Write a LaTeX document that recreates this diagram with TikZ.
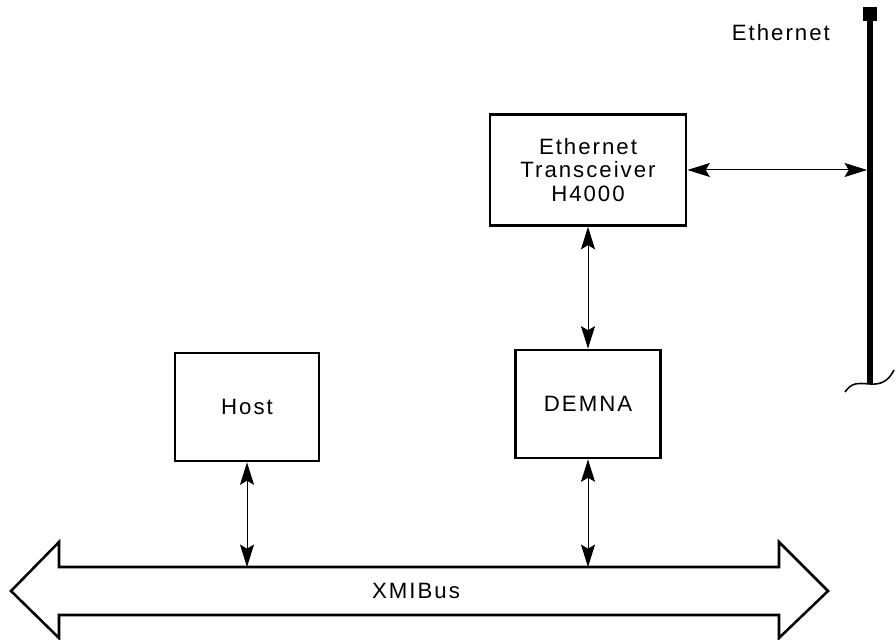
\documentclass[tikz,border=0pt]{standalone}
\usepackage{fontspec}
\setmainfont{Liberation Sans}[LetterSpace=9]
\usepackage{tikz}
\usetikzlibrary{arrows.meta,calc}

\begin{document}
\begin{tikzpicture}[
  box/.style={draw,line width=2pt,minimum width=3.6cm,minimum height=2.7cm,align=center,font=\fontsize{15.8}{17}\selectfont},
  link/.style={{Stealth[length=16pt,width=10pt,inset=3pt]}-{Stealth[length=16pt,width=10pt,inset=3pt]},line width=0.7pt},
  lbl/.style={font=\fontsize{15.8}{17}\selectfont}]
\useasboundingbox (0,0) rectangle (22.4,16);
% boxes
\node[box,minimum width=4.9cm,minimum height=2.775cm] (trans) at (14.7,11.75) {Ethernet\\Transceiver\\H4000};
\node[box,minimum width=3.625cm] (demna) at (14.7,5.9) {DEMNA};
\node[box] (host) at (6.175,5.825) {Host};
% ethernet cable
\coordinate (ethtop) at (21.75,15.475);
\coordinate (ethbot) at (21.75,6.4);
\draw[line width=4.25pt] (ethtop) -- (ethbot);
\fill (21.575,15.475) rectangle (21.925,15.825);
\draw[line width=1.1pt] (21.125,6.2) .. controls (21.3,6.45) and (21.45,6.42) .. (ethbot)
  .. controls (22.0,6.38) and (22.2,6.45) .. (22.35,6.75);
\node[lbl] (ethlbl) at (19.52,15.18) {Ethernet};
\coordinate (ethjoin) at (21.675,11.75);
% XMI bus
\draw[line width=1.8pt,line join=miter] (0.275,1.225) -- (1.475,2.45) -- (1.475,1.825) -- (19.475,1.825)
  -- (19.475,2.45) -- (20.7,1.225) -- (19.475,0.05) -- (19.475,0.625) -- (1.475,0.625)
  -- (1.475,0.05) -- cycle;
\coordinate (bustop) at (0,1.825);
\node[lbl] (xmi) at (10.4,1.23) {XMIBus};
% connectors
\draw[link] (trans.east) -- (ethjoin);
\draw[link] (trans.south) -- (demna.north);
\draw[link] (demna.south) -- (demna.south |- bustop);
\draw[link] (host.south) -- (host.south |- bustop);
\end{tikzpicture}
\end{document}
